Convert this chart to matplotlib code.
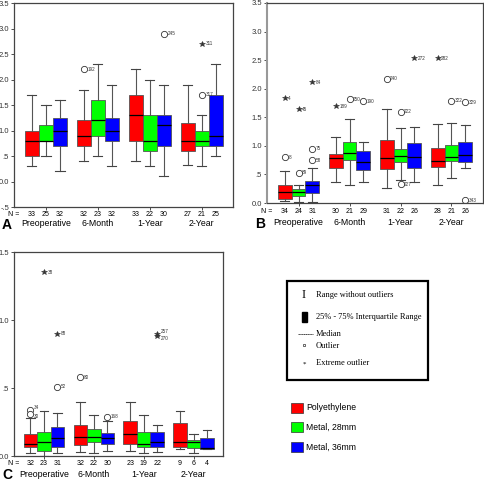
import numpy as np
import matplotlib
matplotlib.use("Agg")
import matplotlib.pyplot as plt
from matplotlib.patches import Rectangle

# groups and implants
groups = ["Preoperative", "6-Month", "1-Year", "2-Year"]
implants = ["Polyethylene", "Metal, 28mm", "Metal, 36mm"]
colors = ["#ff0000", "#00ff00", "#0000ff"]

# panel A  (order: group by group, PE / 28mm / 36mm)
a_lo = [0.30, 0.50, 0.20, 0.40, 0.50, 0.30, 0.40, 0.30, 0.10, 0.33, 0.30, 0.50]
a_q1 = [0.50, 0.80, 0.70, 0.70, 0.90, 0.80, 0.80, 0.60, 0.70, 0.60, 0.70, 0.70]
a_md = [0.80, 0.80, 1.00, 0.90, 1.20, 1.00, 1.30, 0.80, 1.10, 0.80, 0.80, 0.90]
a_q3 = [1.00, 1.10, 1.25, 1.20, 1.60, 1.25, 1.70, 1.30, 1.30, 1.15, 1.00, 1.70]
a_hi = [1.70, 1.50, 1.60, 1.80, 2.30, 1.90, 2.20, 2.00, 1.90, 1.90, 1.30, 2.30]
a_n = [33, 25, 32, 32, 23, 32, 33, 22, 30, 27, 21, 25]
a_out = [(3, 2.20, "192", "o"), (8, 2.90, "245", "o"),
         (10, 2.70, "311", "*"), (10, 1.70, "317", "o")]

# panel B
b_lo = [0.03, 0.02, 0.02, 0.36, 0.32, 0.36, 0.26, 0.40, 0.36, 0.31, 0.44, 0.61]
b_q1 = [0.07, 0.12, 0.17, 0.62, 0.75, 0.57, 0.59, 0.72, 0.62, 0.63, 0.74, 0.72]
b_md = [0.19, 0.20, 0.31, 0.78, 0.87, 0.72, 0.78, 0.83, 0.80, 0.74, 0.80, 0.84]
b_q3 = [0.31, 0.24, 0.39, 0.85, 1.06, 0.91, 1.11, 0.95, 1.05, 0.97, 1.01, 1.07]
b_hi = [0.56, 0.32, 0.61, 1.16, 1.47, 1.06, 1.64, 1.31, 1.33, 1.38, 1.40, 1.36]
b_n = [34, 24, 31, 30, 21, 29, 31, 22, 26, 28, 21, 26]
b_out = [(0, 1.83, "4", "*"), (0, 0.80, "8", "o"),
         (1, 1.64, "45", "*"), (1, 0.53, "89", "o"),
         (2, 2.11, "84", "*"), (2, 0.95, "75", "o"), (2, 0.75, "58", "o"),
         (3, 1.69, "189", "*"), (4, 1.82, "250", "o"), (5, 1.78, "190", "o"),
         (6, 2.17, "240", "o"), (7, 1.60, "222", "o"), (7, 0.33, "227", "o"),
         (8, 2.53, "272", "*"), (9, 2.53, "282", "*"),
         (10, 1.79, "322", "o"), (11, 1.76, "329", "o"), (11, 0.05, "343", "o")]

# panel C
c_lo = [0.02, 0.00, 0.02, 0.03, 0.02, 0.04, 0.04, 0.02, 0.03, 0.05, 0.02, 0.05]
c_q1 = [0.07, 0.04, 0.07, 0.08, 0.10, 0.09, 0.09, 0.07, 0.07, 0.07, 0.06, 0.05]
c_md = [0.09, 0.10, 0.13, 0.14, 0.14, 0.13, 0.16, 0.09, 0.10, 0.10, 0.10, 0.06]
c_q3 = [0.16, 0.18, 0.21, 0.23, 0.20, 0.17, 0.26, 0.18, 0.18, 0.24, 0.12, 0.13]
c_hi = [0.28, 0.33, 0.32, 0.40, 0.30, 0.26, 0.40, 0.30, 0.23, 0.33, 0.16, 0.19]
c_n = [32, 23, 31, 32, 22, 30, 23, 19, 22, 9, 6, 4]
c_out = [(0, 0.34, "34", "o"), (0, 0.31, "30", "o"),
         (1, 1.35, "38", "*"), (2, 0.90, "88", "*"), (2, 0.51, "52", "o"),
         (3, 0.58, "80", "o"), (5, 0.29, "168", "o"),
         (8, 0.90, "257", "*"), (8, 0.88, "270", "*")]

a_ticks = [-0.5, 0.0, 0.5, 1.0, 1.5, 2.0, 2.5, 3.0, 3.5]
a_ticklabels = ["-.5", "0.0", ".5", "1.0", "1.5", "2.0", "2.5", "3.0", "3.5"]
b_ticks = [0.0, 0.5, 1.0, 1.5, 2.0, 2.5, 3.0, 3.5]
b_ticklabels = ["0.0", ".5", "1.0", "1.5", "2.0", "2.5", "3.0", "3.5"]
c_ticks = [0.0, 0.5, 1.0, 1.5]
c_ticklabels = ["0.0", ".5", "1.0", "1.5"]

W = 0.27
SANS = "Liberation Sans"
SERIF = "Liberation Serif"


def panel(ax, lo, q1, md, q3, hi, nn, outl, ylim, ticks, tlabels, letter,
          xlim, n_off, g_off):
    stats = []
    pos = []
    for i in range(12):
        g, k = divmod(i, 3)
        pos.append(g + 1 + (k - 1) * W)
        stats.append(dict(whislo=lo[i], q1=q1[i], med=md[i], q3=q3[i],
                          whishi=hi[i], fliers=[]))
    bp = ax.bxp(stats, positions=pos, widths=W, patch_artist=True,
                showfliers=False,
                boxprops=dict(edgecolor="#555555", linewidth=0.6),
                medianprops=dict(color="black", linewidth=0.9),
                whiskerprops=dict(color="#555555", linewidth=0.8),
                capprops=dict(color="#444444", linewidth=0.8),
                capwidths=W * 0.65)
    for i, b in enumerate(bp["boxes"]):
        b.set_facecolor(colors[i % 3])
    # pairs of outliers sitting close together get their labels split
    seen = {}
    for i, y, lab, kind in outl:
        x = pos[i]
        if kind == "o":
            ax.plot(x, y, "o", mfc="white", mec="#333333", ms=4.5, mew=0.6)
        else:
            ax.plot(x, y, "*", color="#333333", ms=4, mew=0.4)
        dy = 0
        for (j, yy) in seen:
            if j == i and abs(yy - y) < (ylim[1] - ylim[0]) * 0.025:
                dy = -1.6
                seen[(j, yy)] = 1.6
        seen[(i, y)] = dy
    for (i, y, lab, kind) in outl:
        ax.annotate(lab, (pos[i], y), xytext=(2.5, seen[(i, y)]),
                    textcoords="offset points", fontsize=3.3, va="center",
                    ha="left", family=SANS, color="#333333")
    ax.set_xlim(*xlim)
    ax.set_ylim(*ylim)
    ax.set_yticks(ticks)
    ax.set_yticklabels(tlabels, fontsize=5.5, family=SANS)
    ax.set_xticks([1, 2, 3, 4])
    ax.set_xticklabels([])
    ax.tick_params(axis="y", length=2, width=0.6, pad=1.5, colors="#333333")
    ax.tick_params(axis="x", length=2, width=0.6, colors="#333333")
    for s in ax.spines.values():
        s.set_color("#444444")
        s.set_linewidth(0.9)
    trans = ("data", "axes fraction")
    ax.annotate("N =", (xlim[0], 0), xycoords=trans, xytext=(0, n_off),
                textcoords="offset points", fontsize=5, family=SANS,
                ha="center", va="center")
    for i in range(12):
        ax.annotate(str(nn[i]), (pos[i], 0), xycoords=trans,
                    xytext=(0, n_off), textcoords="offset points",
                    fontsize=5, family=SANS, ha="center", va="center")
    for g in range(4):
        ax.annotate(groups[g], (g + 1, 0), xycoords=trans,
                    xytext=(0, g_off), textcoords="offset points",
                    fontsize=6.3, family=SANS, ha="center", va="center")
    ax.annotate(letter, (xlim[0], 0), xycoords=trans, xytext=(-5, g_off - 1),
                textcoords="offset points", fontsize=10, family=SANS,
                weight="bold", ha="center", va="center")


fig = plt.figure(figsize=(4.84, 4.82), dpi=100)
axA = fig.add_axes([0.0289, 0.5705, 0.4525, 0.4232])
axB = fig.add_axes([0.5517, 0.5788, 0.4463, 0.4150])
axC = fig.add_axes([0.0289, 0.0539, 0.4318, 0.4232])

panel(axA, a_lo, a_q1, a_md, a_q3, a_hi, a_n, a_out, (-0.5, 3.5),
      a_ticks, a_ticklabels, "A", (0.385, 4.6), -5.5, -12)
panel(axB, b_lo, b_q1, b_md, b_q3, b_hi, b_n, b_out, (0.0, 3.5),
      b_ticks, b_ticklabels, "B", (0.38, 4.62), -6, -14)
panel(axC, c_lo, c_q1, c_md, c_q3, c_hi, c_n, c_out, (0.0, 1.5),
      c_ticks, c_ticklabels, "C", (0.4, 4.59), -5.5, -13)
axB.spines["left"].set_color("#999999")
axB.spines["left"].set_linewidth(1.5)

# key box
fig.add_artist(Rectangle((287 / 484, 1 - 380 / 482), 141 / 484, 99 / 482,
                         transform=fig.transFigure, fill=False,
                         edgecolor="black", linewidth=1.6))
key_text = ["Range without outliers", "25% - 75% Interquartile Range",
            "Median", "Outlier", "Extreme outlier"]
key_y = [295, 317, 334, 346, 363]
for t, y in zip(key_text, key_y):
    fig.text(316 / 484, 1 - y / 482, t, fontsize=6.0, family=SERIF,
             va="center", ha="left")
fig.text(304 / 484, 1 - 295 / 482, "I", fontsize=9, family=SERIF,
         va="center", ha="center")
fig.add_artist(Rectangle((302 / 484, 1 - 322 / 482), 5 / 484, 10 / 482,
                         transform=fig.transFigure, color="black"))
fig.add_artist(plt.Line2D([298 / 484, 313 / 484], [1 - 334 / 482] * 2,
                          transform=fig.transFigure, color="black",
                          linewidth=0.5, linestyle=(0, (2, 0.6))))
fig.add_artist(plt.Line2D([304 / 484], [1 - 345 / 482], marker="o", ms=1.8,
                          mfc="white", mec="black", mew=0.4,
                          transform=fig.transFigure))
fig.text(304 / 484, 1 - 364 / 482, "*", fontsize=5, family=SERIF,
         va="center", ha="center")

# colour legend
leg_y = [408, 427, 447]
for name, c, y in zip(implants, colors, leg_y):
    fig.add_artist(Rectangle((291 / 484, 1 - (y + 5) / 482), 12 / 484,
                             10 / 482, transform=fig.transFigure,
                             facecolor=c, edgecolor="#333333", linewidth=0.5))
    fig.text(306 / 484, 1 - y / 482, name, fontsize=6.2, family=SANS,
             va="center", ha="left")

fig.savefig("out.png", dpi=100)
